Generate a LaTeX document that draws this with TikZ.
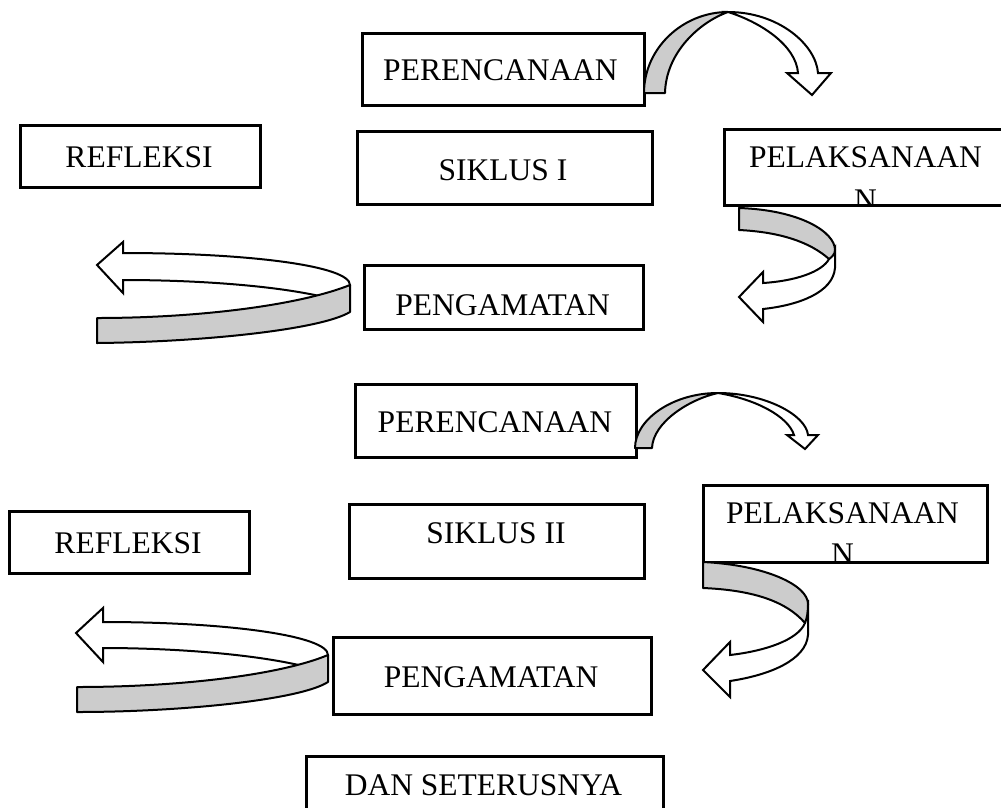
\documentclass[tikz,border=0pt]{standalone}
\usepackage{fontspec}
\setmainfont{Liberation Serif}
\definecolor{ribbon}{RGB}{204,204,204}
\begin{document}
\begin{tikzpicture}[x=1pt,y=-1pt,
  box/.style={draw, line width=2.5pt, inner sep=0pt, anchor=north west, fill=white},
  lbl/.style={anchor=base, inner sep=0pt, font=\fontsize{31.5}{36}\selectfont},
  band/.style={draw, line width=2pt, line join=round, fill=ribbon},
  backband/.style={draw, line width=2pt, line join=miter, fill=white}]
\useasboundingbox (0,0) rectangle (1001,807);
\clip (0,0) rectangle (1001,807);
\fill[white] (0,0) rectangle (1001,807);

% ---------- boxes, cycle I ----------
\node[box, minimum width=282pt, minimum height=72pt] (plan1) at (361,32) {};
\node[lbl] (plan1t) at (500.5,80) {PERENCANAAN};

\node[box, minimum width=240pt, minimum height=62pt] (refl1) at (19,124) {};
\node[lbl] (refl1t) at (139,167) {REFLEKSI};

\node[box, minimum width=295pt, minimum height=73pt] (sik1) at (356,130) {};
\node[lbl] (sik1t) at (503,180) {SIKLUS I};

\node[box, minimum width=285pt, minimum height=76pt] (pel1) at (723,128) {};
\node[lbl] (pel1t) at (865.5,167) {PELAKSANAAN};
\begin{scope}
  \clip (723,128) rectangle (1008,203);
  \node[lbl] (pel1n) at (865.5,210) {N};
\end{scope}

\node[box, minimum width=279pt, minimum height=64pt] (pen1) at (363,264) {};
\node[lbl] (pen1t) at (502.5,315) {PENGAMATAN};

% ---------- boxes, cycle II ----------
\node[box, minimum width=281pt, minimum height=73pt] (plan2) at (354,383) {};
\node[lbl] (plan2t) at (495,432) {PERENCANAAN};

\node[box, minimum width=240pt, minimum height=62pt] (refl2) at (8,510) {};
\node[lbl] (refl2t) at (128,553) {REFLEKSI};

\node[box, minimum width=295pt, minimum height=74pt] (sik2) at (348,503) {};
\node[lbl] (sik2t) at (496,543) {SIKLUS II};

\node[box, minimum width=284pt, minimum height=77pt] (pel2) at (702,484) {};
\node[lbl] (pel2t) at (842.5,523) {PELAKSANAAN};
\begin{scope}
  \clip (702,484) rectangle (986,560);
  \node[lbl] (pel2n) at (842.5,564) {N};
\end{scope}

\node[box, minimum width=318pt, minimum height=77pt] (pen2) at (332,636) {};
\node[lbl] (pen2t) at (491,687) {PENGAMATAN};

\node[box, minimum width=357pt, minimum height=80pt] (dan) at (305,755) {};
\node[lbl] (dant) at (483.5,795) {DAN SETERUSNYA};

% ---------- arrow A1 (over top) ----------
\draw[backband] (728,12) .. controls (779,12) and (816,45) .. (818,73)
  -- (831,73) -- (812,95) -- (787,73) -- (798,73)
  .. controls (796,45) and (760,22) .. (728,12) -- cycle;
\draw[band] (644,93) .. controls (644,48) and (683,12) .. (728,12)
  .. controls (700,22) and (666,52) .. (665,93) -- cycle;

% ---------- arrow B1 (down, right side) ----------
\draw[backband] (835,248) -- (835,268) .. controls (833,292) and (800,305) .. (763,309)
  -- (763,322) -- (739,297) -- (763,272) -- (763,283)
  .. controls (795,281) and (822,272) .. (829,259) -- cycle;
\draw[band] (739,208) .. controls (800,210) and (835,232) .. (835,250)
  .. controls (835,254) and (832,257) .. (829,259)
  .. controls (810,242) and (780,232) .. (739,230) -- cycle;

% ---------- arrow C1 (left loop) ----------
\draw[backband] (123,253) .. controls (250,253) and (350,266) .. (350,285)
  -- (340,295) -- (328,298) .. controls (280,286) and (200,280) .. (123,280)
  -- (123,293) -- (97,265) -- (123,242) -- cycle;
\draw[band] (97,318) .. controls (200,318) and (300,305) .. (350,285)
  -- (350,312) .. controls (320,330) and (200,342) .. (97,343) -- cycle;

% ---------- arrow A2 (over top) ----------
\draw[backband] (718,393) .. controls (765,393) and (806,415) .. (808,435)
  -- (818,435) -- (805,449) -- (787,435) -- (794,435)
  .. controls (788,416) and (755,399) .. (718,393) -- cycle;
\draw[band] (635,448) .. controls (635,420) and (672,393) .. (718,393)
  .. controls (690,399) and (653,422) .. (652,448) -- cycle;

% ---------- arrow B2 (down, right side) ----------
\draw[backband] (808,600) -- (808,635) .. controls (806,660) and (770,675) .. (730,681)
  -- (730,697) -- (703,670) -- (730,642) -- (730,655)
  .. controls (765,651) and (798,640) .. (805,623) -- cycle;
\draw[band] (703,562) .. controls (765,565) and (808,585) .. (808,604)
  .. controls (808,612) and (807,618) .. (805,623)
  .. controls (785,600) and (750,590) .. (703,588) -- cycle;

% ---------- arrow C2 (left loop) ----------
\draw[backband] (103,622) .. controls (230,622) and (328,636) .. (328,655)
  -- (318,664) -- (307,667) .. controls (260,655) and (180,648) .. (103,648)
  -- (103,662) -- (76,633) -- (103,608) -- cycle;
\draw[band] (77,687) .. controls (180,687) and (280,675) .. (328,655)
  -- (328,682) .. controls (300,700) and (180,712) .. (77,712) -- cycle;
\end{tikzpicture}
\end{document}
